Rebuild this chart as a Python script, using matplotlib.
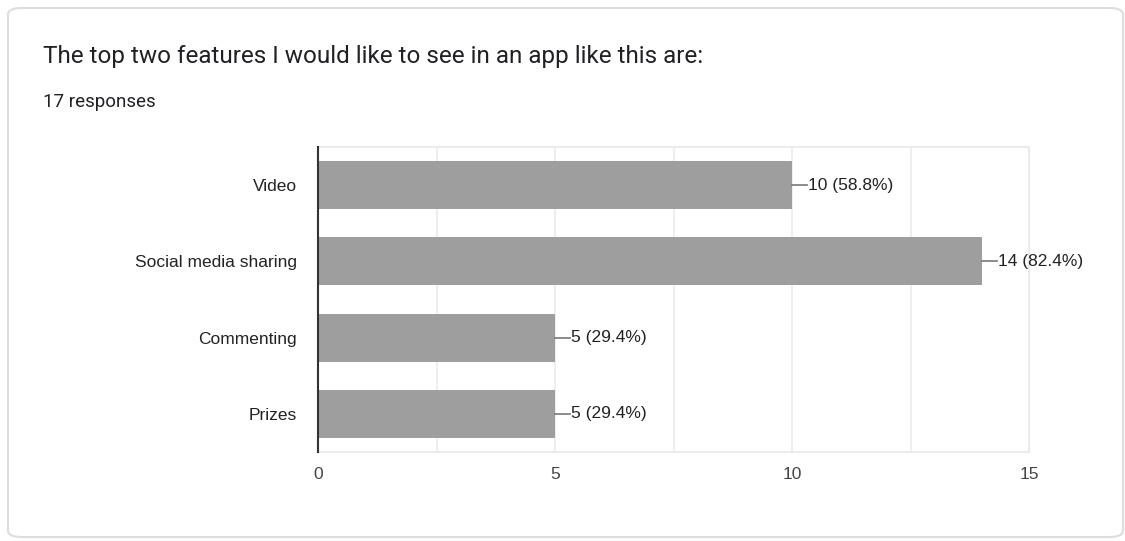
import matplotlib.pyplot as plt
from matplotlib.patches import FancyBboxPatch

features = ['Video', 'Social media sharing', 'Commenting', 'Prizes']
counts = [10, 14, 5, 5]
total_responses = 17
x_ticks = [0, 5, 10, 15]

W, H = 1125, 541
fig = plt.figure(figsize=(W / 100, H / 100), dpi=100)
fig.patch.set_facecolor('white')

# card outline behind everything
card = FancyBboxPatch((8 / W, 4 / H), 1115 / W, 529 / H,
                      boxstyle='round,pad=0,rounding_size=0.012',
                      transform=fig.transFigure, facecolor='white',
                      edgecolor='#dddddd', linewidth=1.5, zorder=-10)
fig.patches.append(card)

fig.text(43 / W, 1 - 57 / H, 'The top two features I would like to see in an app like this are:',
         fontsize=17.5, family='Roboto', color='#202124', va='center')
fig.text(43 / W, 1 - 102 / H, f'{total_responses} responses',
         fontsize=13.5, family='Roboto', color='#202124', va='center')

ax = fig.add_axes([318 / W, 89 / H, 711 / W, 305 / H])
ax.set_facecolor('none')
ypos = list(range(len(features)))
ax.barh(ypos, counts, height=0.63, color='#9e9e9e', zorder=2)
ax.set_xlim(0, 15)
ax.set_ylim(len(features) - 0.5, -0.5)

ax.set_xticks(x_ticks)
ax.set_xticks([2.5, 7.5, 12.5], minor=True)
ax.grid(True, axis='x', which='both', color='#ebebeb', linewidth=1.2, zorder=0)
ax.tick_params(axis='x', which='both', length=0, pad=11, labelsize=12.5, labelcolor='#444444')
ax.tick_params(axis='y', length=0, pad=15, labelsize=12.5, labelcolor='#222222')
ax.set_yticks(ypos)
ax.set_yticklabels(features)
for lbl in ax.get_xticklabels() + ax.get_yticklabels():
    lbl.set_family('Liberation Sans')

for side in ['top', 'right', 'bottom']:
    ax.spines[side].set_color('#ebebeb')
    ax.spines[side].set_linewidth(1.5)
ax.spines['left'].set_color('#333333')
ax.spines['left'].set_linewidth(1.5)
ax.spines['left'].set_zorder(3)

# value labels with short leader lines
for y, c in zip(ypos, counts):
    ax.plot([c, c + 0.32], [y, y], color='#777777', linewidth=1.2, zorder=3, clip_on=False)
    ax.text(c + 0.34, y, f'{c} ({c / total_responses * 100:.1f}%)', va='center', ha='left',
            fontsize=12.5, family='Liberation Sans', color='#222222')

fig.savefig('out.png', dpi=100)
